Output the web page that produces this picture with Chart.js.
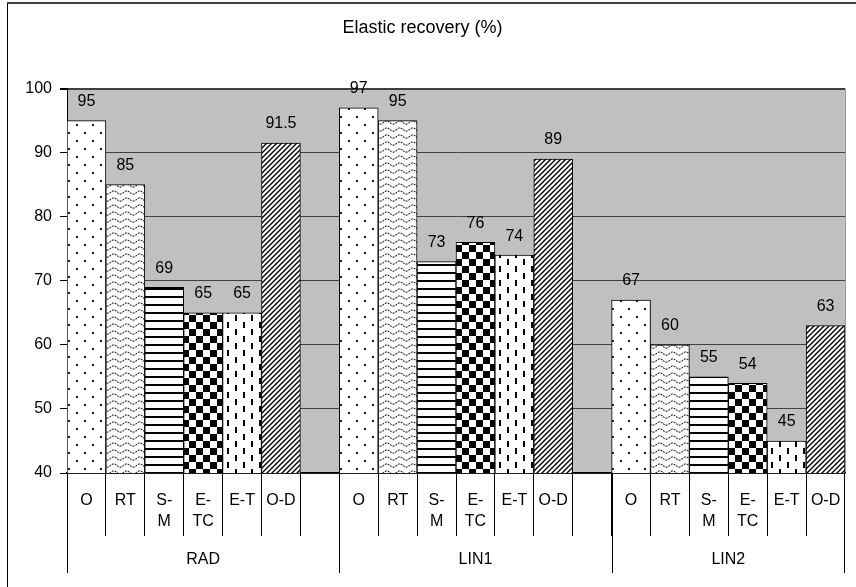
<!DOCTYPE html>
<html lang="en">
<head>
    <meta charset="UTF-8">
    <title>Elastic recovery (%)</title>
    <script src="https://cdn.jsdelivr.net/npm/chart.js"></script>
    <style>
        body { margin: 0; background: #fff; }
        #wrap { width: 856px; height: 587px; }
    </style>
</head>
<body>

<div id="wrap">
    <canvas id="recoveryChart" width="856" height="587"></canvas>
</div>

<script>
    // values
    const groups = ['RAD', 'LIN1', 'LIN2'];
    const treatments = ['O', 'RT', 'S-M', 'E-TC', 'E-T', 'O-D'];
    const radValues = [95, 85, 69, 65, 65, 91.5];
    const lin1Values = [97, 95, 73, 76, 74, 89];
    const lin2Values = [67, 60, 55, 54, 45, 63];
    const groupValues = [radValues, lin1Values, lin2Values];
    const yMin = 40, yMax = 100, yStep = 10;

    const FONT = '"Liberation Sans", Arial, sans-serif';

    // excel-like fill patterns, one per treatment
    function tile(w, h, draw) {
        const c = document.createElement('canvas');
        c.width = w; c.height = h;
        const g = c.getContext('2d');
        g.fillStyle = '#fff';
        g.fillRect(0, 0, w, h);
        g.fillStyle = '#000';
        g.strokeStyle = '#000';
        draw(g);
        return document.createElement('canvas').getContext('2d').createPattern(c, 'repeat');
    }

    const patterns = {
        'O': tile(16, 16, g => {
            g.fillStyle = '#222';
            g.fillRect(4, 4, 2, 2);
            g.fillRect(12, 12, 2, 2);
        }),
        'RT': tile(13, 7, g => {
            g.lineWidth = 1.2;
            g.strokeStyle = '#333';
            g.setLineDash([2, 1]);
            g.beginPath();
            for (let x = 0; x <= 13; x += 0.5) {
                const y = 3.5 + 1.6 * Math.sin(2 * Math.PI * x / 13);
                if (x === 0) g.moveTo(x, y); else g.lineTo(x, y);
            }
            g.stroke();
        }),
        'S-M': tile(8, 8, g => {
            g.fillRect(0, 0, 8, 2);
        }),
        'E-TC': tile(14, 14, g => {
            g.fillRect(0, 0, 7, 7);
            g.fillRect(7, 7, 7, 7);
        }),
        'E-T': tile(16, 14, g => {
            g.fillRect(3, 0, 2, 6);
            g.fillRect(11, 7, 2, 6);
        }),
        'O-D': tile(5, 5, g => {
            g.lineWidth = 1.4;
            g.beginPath();
            g.moveTo(-1, 6); g.lineTo(6, -1);
            g.moveTo(-1, 1); g.lineTo(1, -1);
            g.moveTo(4, 6); g.lineTo(6, 4);
            g.stroke();
        })
    };

    // flatten groups into one category axis, with an empty slot between groups
    const labels = [];
    const values = [];
    const groupSpans = [];
    groups.forEach((grp, gi) => {
        const start = labels.length;
        treatments.forEach((t, ti) => {
            labels.push(t);
            values.push(groupValues[gi][ti]);
        });
        if (gi < groups.length - 1) {
            labels.push('');
            values.push(null);
        }
        groupSpans.push({ name: grp, first: start, last: labels.length - 1 });
    });

    function wrapLabel(t) {
        if (t === 'S-M') return ['S-', 'M'];
        if (t === 'E-TC') return ['E-', 'TC'];
        return t;
    }

    const chartBackground = {
        id: 'chartBackground',
        beforeDraw(chart) {
            const { ctx, chartArea: a } = chart;
            ctx.save();
            ctx.fillStyle = '#fff';
            ctx.fillRect(0, 0, chart.width, chart.height);
            // outer frame
            ctx.fillStyle = '#000';
            ctx.fillRect(7, 3, 1, chart.height);
            ctx.fillStyle = '#404040';
            ctx.fillRect(7, 2, chart.width, 2);
            // plot area
            ctx.fillStyle = '#c0c0c0';
            ctx.fillRect(a.left, a.top, a.right - a.left, a.bottom - a.top);
            ctx.fillStyle = '#999';
            ctx.fillRect(a.right, a.top, 1, a.bottom - a.top);
            ctx.restore();
        }
    };

    const valueLabels = {
        id: 'valueLabels',
        afterDatasetsDraw(chart) {
            const { ctx } = chart;
            const meta = chart.getDatasetMeta(0);
            ctx.save();
            ctx.font = '16px ' + FONT;
            ctx.fillStyle = '#000';
            ctx.textAlign = 'center';
            ctx.textBaseline = 'middle';
            meta.data.forEach((bar, i) => {
                const v = values[i];
                if (v === null) return;
                ctx.fillText(String(v), bar.x, bar.y - 19);
            });
            ctx.restore();
        }
    };

    const groupAxis = {
        id: 'groupAxis',
        afterDraw(chart) {
            const { ctx, chartArea: a } = chart;
            const xs = chart.scales.x;
            const slot = xs.getPixelForValue(1) - xs.getPixelForValue(0);
            ctx.save();
            ctx.strokeStyle = '#000';
            ctx.lineWidth = 1;
            ctx.font = '16px ' + FONT;
            ctx.fillStyle = '#000';
            ctx.textAlign = 'center';
            ctx.textBaseline = 'middle';
            groupSpans.forEach((s, i) => {
                const left = xs.getPixelForValue(s.first) - slot / 2;
                const right = xs.getPixelForValue(s.last) + slot / 2;
                ctx.beginPath();
                ctx.moveTo(Math.round(left) + 0.5, a.bottom);
                ctx.lineTo(Math.round(left) + 0.5, 573);
                if (i === groupSpans.length - 1) {
                    ctx.moveTo(Math.round(right) - 0.5, a.bottom);
                    ctx.lineTo(Math.round(right) - 0.5, 573);
                }
                ctx.stroke();
                ctx.fillText(s.name, (left + right) / 2, 560);
            });
            ctx.restore();
        }
    };

    const ctx = document.getElementById('recoveryChart').getContext('2d');
    const recoveryChart = new Chart(ctx, {
        type: 'bar',
        data: {
            labels: labels,
            datasets: [{
                label: 'Elastic recovery (%)',
                data: values,
                backgroundColor: labels.map(t => patterns[t] || 'rgba(0,0,0,0)'),
                borderColor: '#000',
                borderWidth: 1,
                barPercentage: 1,
                categoryPercentage: 1
            }]
        },
        options: {
            responsive: false,
            animation: false,
            layout: { padding: { left: 0, right: 11, top: 0, bottom: 0 } },
            plugins: {
                legend: { display: false },
                tooltip: { enabled: false },
                title: {
                    display: true,
                    text: 'Elastic recovery (%)',
                    color: '#000',
                    font: { family: FONT, size: 18, weight: 'normal' },
                    padding: { top: 17, bottom: 50 }
                }
            },
            scales: {
                x: {
                    offset: true,
                    grid: {
                        offset: true,
                        drawOnChartArea: false,
                        drawTicks: true,
                        tickLength: 63,
                        color: '#000'
                    },
                    border: { display: true, color: '#000', width: 1.5 },
                    ticks: {
                        autoSkip: false,
                        maxRotation: 0,
                        padding: -46,
                        color: '#000',
                        font: { family: FONT, size: 16, lineHeight: 1.3 },
                        callback: (v, i) => wrapLabel(labels[i])
                    },
                    afterFit: s => { s.height = 114; }
                },
                y: {
                    min: yMin,
                    max: yMax,
                    ticks: {
                        stepSize: yStep,
                        padding: 8,
                        color: '#000',
                        font: { family: FONT, size: 16 }
                    },
                    grid: {
                        color: '#404040',
                        tickColor: '#000',
                        tickLength: 7,
                        lineWidth: c => (c.tick && c.tick.value === yMax ? 2 : 1)
                    },
                    border: { display: true, color: '#000', width: 1 },
                    afterFit: s => { s.width = 67; }
                }
            }
        },
        plugins: [chartBackground, valueLabels, groupAxis]
    });
</script>

</body>
</html>
